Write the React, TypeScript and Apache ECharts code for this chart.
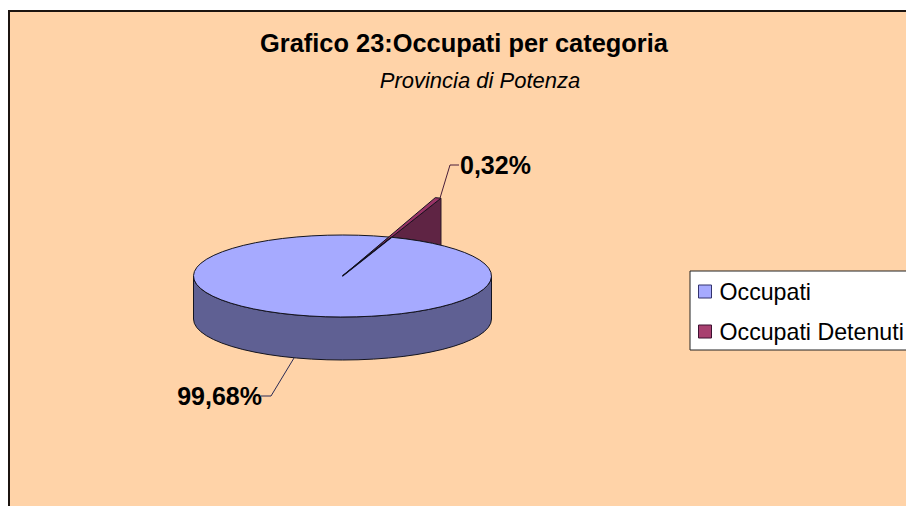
import React, { useEffect, useRef } from "react";
import * as echarts from "echarts";

const categories = ["Occupati", "Occupati Detenuti"];
const occupatiShare = [99.68];
const detenutiShare = [0.32];
const titleText = "Grafico 23:Occupati per categoria";
const subtitleText = "Provincia di Potenza";

const FONT = '"Liberation Sans", Arial, sans-serif';
const CX = 342.5, CY = 276, RX = 149, RY = 41, DEPTH = 43;
const T0 = (70.8 * Math.PI) / 180;
const EXPLODE = 2.01;
const OUTLINE = "#14141f";

const pt = (t: number, f = 1, dy = 0): number[] => [
  CX + f * RX * Math.cos(t),
  CY + dy - f * RY * Math.sin(t),
];
const arc = (from: number, to: number, dy = 0, steps = 30): number[][] => {
  const out: number[][] = [];
  for (let i = 0; i <= steps; i++) out.push(pt(from + ((to - from) * i) / steps, 1, dy));
  return out;
};
const pctLabel = (v: number) => v.toFixed(2).replace(".", ",") + "%";
const labelChild = (text: string, x: number, y: number, align: string) => ({
  type: "text",
  x,
  y,
  style: {
    text,
    fill: "#000",
    font: `bold 25px ${FONT}`,
    align,
    verticalAlign: "middle",
  },
});

const sweepOf = (share: number) => (share / 100) * Math.PI * 2;

function renderDetenuti(_: any, api: any) {
  const v = api.value(0);
  const a = T0, b = T0 + sweepOf(v);
  const tip = pt(a, EXPLODE);
  const tip2 = pt(b, EXPLODE);
  const cosW = (tip[0] - CX) / RX;
  const tw = Math.acos(cosW);
  return {
    type: "group",
    children: [
      {
        type: "polygon",
        shape: { points: [tip, ...arc(tw, a, 0, 8)] },
        style: { fill: "#5f2444", stroke: "#2a1a25", lineWidth: 1 },
      },
      {
        type: "polygon",
        shape: { points: [[CX, CY], tip, tip2] },
        style: { fill: "#993366", stroke: "#1a1020", lineWidth: 1 },
      },
      {
        type: "polyline",
        shape: { points: [[tip[0] - 1, tip[1]], [450, 165], [459, 165]] },
        style: { fill: "none", stroke: "#4a1f3a", lineWidth: 1 },
      },
      labelChild(pctLabel(v), 460, 165, "left"),
    ],
  };
}

function renderOccupati(_: any, api: any) {
  const v = api.value(0);
  const start = T0;
  const end = T0 - sweepOf(v);
  const frontFrom = Math.PI;
  const frontTo = 2 * Math.PI;
  return {
    type: "group",
    children: [
      {
        type: "polygon",
        shape: {
          points: [...arc(frontFrom, frontTo, 0), ...arc(frontTo, frontFrom, DEPTH)],
        },
        style: { fill: "#5f6093", stroke: OUTLINE, lineWidth: 1 },
      },
      {
        type: "polygon",
        shape: { points: [[CX, CY], ...arc(start, end, 0, 60)] },
        style: { fill: "#a6aaff", stroke: OUTLINE, lineWidth: 1 },
      },
      {
        type: "polyline",
        shape: { points: [[CX, CY], pt(T0)] },
        style: { fill: "none", stroke: "#101020", lineWidth: 1.4 },
      },
      {
        type: "polyline",
        shape: { points: [[294, 358], [271, 396], [261, 396]] },
        style: { fill: "none", stroke: "#2b2b55", lineWidth: 1 },
      },
      labelChild(pctLabel(v), 262, 396, "right"),
    ],
  };
}

export default function App() {
  const ref = useRef<HTMLDivElement>(null);
  useEffect(() => {
    const chart = echarts.init(ref.current!, undefined, { renderer: "svg" });
    chart.setOption({
      animation: false,
      backgroundColor: "#ffffff",
      graphic: [
        {
          type: "rect",
          z: -10,
          shape: { x: 9, y: 11, width: 1000, height: 1000 },
          style: { fill: "#ffd3a8", stroke: "#1c1410", lineWidth: 2 },
        },
      ],
      title: [
        {
          text: titleText,
          left: 459,
          top: 25,
          textAlign: "center",
          textStyle: { fontFamily: FONT, fontWeight: "bold", fontSize: 25.4, color: "#000" },
        },
        {
          text: subtitleText,
          left: 475,
          top: 64,
          textAlign: "center",
          textStyle: { fontFamily: FONT, fontStyle: "italic", fontWeight: "normal", fontSize: 22, color: "#000" },
        },
      ],
      legend: {
        orient: "vertical",
        left: 690,
        top: 271,
        padding: [9, 12, 7, 8],
        itemGap: 17,
        itemWidth: 13,
        itemHeight: 13,
        backgroundColor: "#ffffff",
        borderColor: "#222222",
        borderWidth: 1,
        borderRadius: 0,
        textStyle: { fontFamily: FONT, fontSize: 23.2, color: "#000", padding: [0, 0, 0, 3] },
        data: [
          { name: categories[0], icon: "rect", itemStyle: { color: "#a6aaff", borderColor: "#33336e", borderWidth: 1 } },
          { name: categories[1], icon: "rect", itemStyle: { color: "#a84070", borderColor: "#3d1030", borderWidth: 1 } },
        ],
      },
      series: [
        {
          type: "custom",
          name: categories[1],
          coordinateSystem: "none",
          silent: true,
          z: 2,
          itemStyle: { color: "#a84070" },
          data: [detenutiShare],
          renderItem: renderDetenuti,
        },
        {
          type: "custom",
          name: categories[0],
          coordinateSystem: "none",
          silent: true,
          z: 3,
          itemStyle: { color: "#a6aaff" },
          data: [occupatiShare],
          renderItem: renderOccupati,
        },
      ],
    });
    return () => chart.dispose();
  }, []);
  return <div ref={ref} style={{ position: "absolute", left: 0, top: 0, width: 906, height: 506 }} />;
}
